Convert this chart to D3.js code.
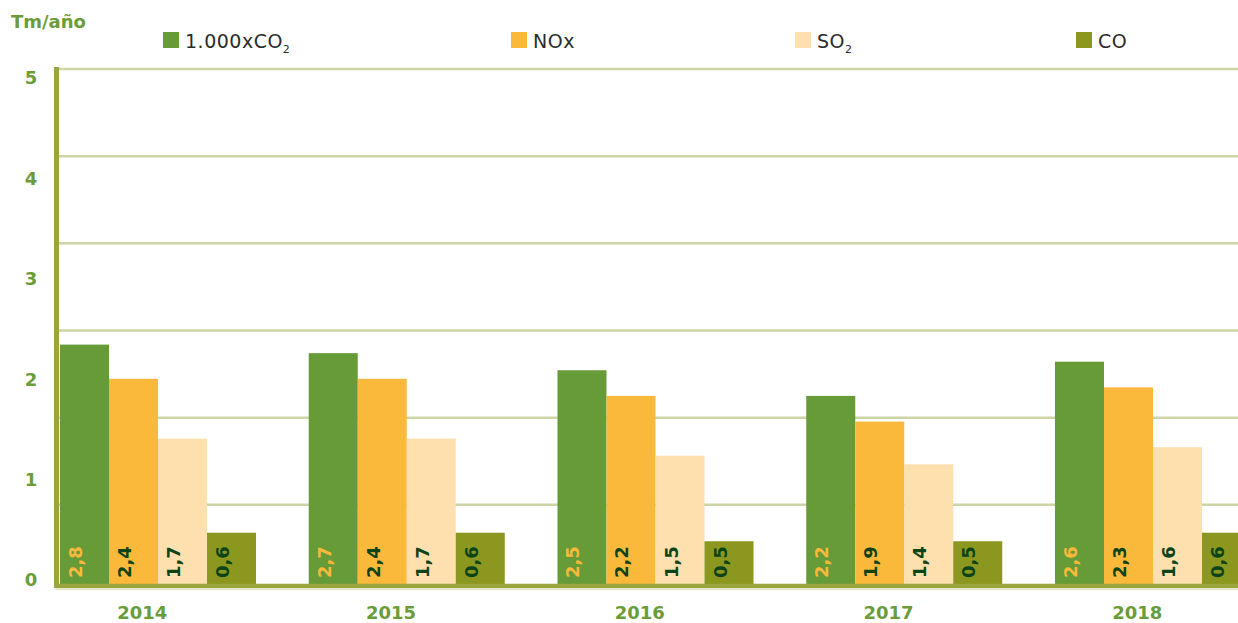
<!DOCTYPE html>
<html>
<head>
<meta charset="utf-8">
<script src="https://cdn.jsdelivr.net/npm/d3@7"></script>
<style>
  body { margin: 0; background: #fff; }
  svg { display: block; font-family: "DejaVu Sans", sans-serif; }
</style>
</head>
<body>
<div id="chart"></div>
<script>
// Emisiones por año (Tm/año)
const years = ['2014', '2015', '2016', '2017', '2018'];
const seriesNames = ['1.000xCO2', 'NOx', 'SO2', 'CO'];
const co2Values = [2.8, 2.7, 2.5, 2.2, 2.6];
const noxValues = [2.4, 2.4, 2.2, 1.9, 2.3];
const so2Values = [1.7, 1.7, 1.5, 1.4, 1.6];
const coValues = [0.6, 0.6, 0.5, 0.5, 0.6];
const yTickLabels = [0, 1, 2, 3, 4, 5];
const gridTicks = [1, 2, 3, 4, 5, 6];

const colors = ['#679b38', '#fbb93c', '#fde0ae', '#8b971f'];
const labelColors = ['#fbb93c', '#0c4418', '#0c4418', '#0c4418'];

const width = 1238, height = 623;

const svg = d3.select('#chart')
    .append('svg')
    .attr('width', width)
    .attr('height', height);

// Build table from the series arrays
const allValues = [co2Values, noxValues, so2Values, coValues];
const data = years.map((year, i) => ({
    year: year,
    values: seriesNames.map((name, s) => ({ key: name, idx: s, value: allValues[s][i] }))
}));

// Scales
const x = d3.scaleBand()
    .domain(years)
    .range([60, 1251])
    .paddingInner(0.212)
    .paddingOuter(0);

const xSub = d3.scaleBand()
    .domain(seriesNames)
    .range([0, x.bandwidth()]);

const y = d3.scaleLinear().domain([0, 6]).range([584, 71]);
const yGrid = d3.scaleLinear().domain([0, 6]).range([592, 69]);
const yLabel = d3.scaleLinear().domain([0, 5]).range([580, 78]);

// Gridlines
svg.append('g')
    .selectAll('line')
    .data(gridTicks)
    .enter()
    .append('line')
    .attr('x1', 58)
    .attr('x2', width)
    .attr('y1', d => yGrid(d))
    .attr('y2', d => yGrid(d))
    .attr('stroke', '#cbd5a5')
    .attr('stroke-width', 2.5);

// Bars
const groups = svg.append('g')
    .selectAll('g')
    .data(data)
    .enter()
    .append('g')
    .attr('transform', d => `translate(${x(d.year)},0)`);

groups.selectAll('rect')
    .data(d => d.values)
    .enter()
    .append('rect')
    .attr('x', d => xSub(d.key))
    .attr('width', xSub.bandwidth())
    .attr('y', d => y(d.value))
    .attr('height', d => y(0) - y(d.value))
    .attr('fill', d => colors[d.idx]);

// Value labels, rotated at the bottom of each bar
groups.selectAll('text')
    .data(d => d.values)
    .enter()
    .append('text')
    .attr('transform', d => `translate(${xSub(d.key) + 22},${y(0) - 6}) rotate(-90)`)
    .attr('font-size', '18px')
    .attr('font-weight', '700')
    .attr('fill', d => labelColors[d.idx])
    .text(d => d3.format('.1f')(d.value).replace('.', ','));

// Axis lines
svg.append('line')
    .attr('x1', 55).attr('x2', width)
    .attr('y1', 586).attr('y2', 586)
    .attr('stroke', '#9aa53d')
    .attr('stroke-width', 4.5);
svg.append('line')
    .attr('x1', 55).attr('x2', width)
    .attr('y1', 589.5).attr('y2', 589.5)
    .attr('stroke', '#e3e8cc')
    .attr('stroke-width', 1.5);
svg.append('line')
    .attr('x1', 56.5).attr('x2', 56.5)
    .attr('y1', 67).attr('y2', 588)
    .attr('stroke', '#9aa53d')
    .attr('stroke-width', 5);

// Y labels
svg.append('g')
    .selectAll('text')
    .data(yTickLabels)
    .enter()
    .append('text')
    .attr('x', 31)
    .attr('y', d => yLabel(d))
    .attr('dy', '0.36em')
    .attr('text-anchor', 'middle')
    .attr('font-size', '18px')
    .attr('font-weight', '700')
    .attr('fill', '#6a9d3a')
    .text(d => d);

// Year labels
svg.append('g')
    .selectAll('text')
    .data(years)
    .enter()
    .append('text')
    .attr('x', d => x(d) + x.bandwidth() * 0.42)
    .attr('y', 619)
    .attr('text-anchor', 'middle')
    .attr('font-size', '18px')
    .attr('font-weight', '700')
    .attr('fill', '#6a9d3a')
    .text(d => d);

// Unit title
svg.append('text')
    .attr('x', 11)
    .attr('y', 28)
    .attr('font-size', '18px')
    .attr('font-weight', '700')
    .attr('fill', '#6a9d3a')
    .text('Tm/año');

// Legend
const legendX = [163, 511, 795, 1076];
const legendLabels = [['1.000xCO', '2'], ['NOx', ''], ['SO', '2'], ['CO', '']];

const legend = svg.append('g')
    .selectAll('g')
    .data(seriesNames)
    .enter()
    .append('g')
    .attr('transform', (d, i) => `translate(${legendX[i]},32)`);

legend.append('rect')
    .attr('width', 16)
    .attr('height', 16)
    .attr('fill', (d, i) => colors[i]);

const legendText = legend.append('text')
    .attr('x', 22)
    .attr('y', 16)
    .attr('font-size', '19px')
    .attr('letter-spacing', '0.5px')
    .attr('fill', '#2b2b2b');

legendText.append('tspan')
    .text((d, i) => legendLabels[i][0]);
legendText.append('tspan')
    .attr('dy', 5)
    .attr('font-size', '11px')
    .text((d, i) => legendLabels[i][1]);
</script>
</body>
</html>
